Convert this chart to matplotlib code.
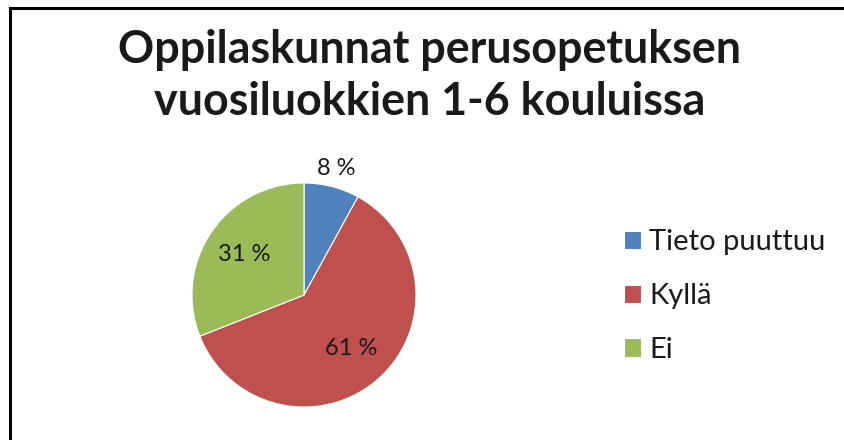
import matplotlib
matplotlib.use("Agg")
import matplotlib.pyplot as plt
from matplotlib.lines import Line2D
import numpy as np

title = "Oppilaskunnat perusopetuksen\nvuosiluokkien 1-6 kouluissa"
categories = ["Tieto puuttuu", "Kyllä", "Ei"]
values = [8, 61, 31]
colors = ["#4F81BD", "#C0504D", "#9BBB59"]

plt.rcParams['font.family'] = ['Lato', 'DejaVu Sans']

W, H = 844, 440
fig = plt.figure(figsize=(W / 100, H / 100), dpi=100)

# frame lines (top and left visible)
fig.add_artist(Line2D([9.5 / W, 9.5 / W], [0, 1 - 8 / H], color="black", lw=2.2,
                      transform=fig.transFigure))
fig.add_artist(Line2D([9.5 / W, 1], [1 - 8 / H, 1 - 8 / H], color="black", lw=2.2,
                      transform=fig.transFigure))

fig.text(430 / W, 1 - 76 / H, title, ha="center", va="center", fontsize=32.3,
         fontweight="bold", color="#1a1a1a", linespacing=1.3)

cx, cy, r = 304, 295, 112
ax = fig.add_axes([(cx - r) / W, 1 - (cy + r) / H, 2 * r / W, 2 * r / H])
wedges, texts, autotexts = ax.pie(values, colors=colors, startangle=90, counterclock=False,
                                  autopct=lambda p: f"{p:.0f} %", pctdistance=0.64,
                                  wedgeprops=dict(edgecolor="white", linewidth=0.8),
                                  textprops=dict(fontsize=17, color="#1a1a1a"))
# move first label outside
w0 = wedges[0]
ang = np.deg2rad((w0.theta1 + w0.theta2) / 2)
autotexts[0].set_position((1.17 * np.cos(ang), 1.17 * np.sin(ang)))
ax.set_xlim(-1, 1)
ax.set_ylim(-1, 1)
ax.set_aspect("equal")

fs = 21
fpx = fs * 100 / 72
fig.legend(wedges, categories, loc="center left",
           bbox_to_anchor=(624 / W, 1 - 296 / H), frameon=False,
           fontsize=fs, handlelength=17 / fpx, handleheight=17 / fpx,
           handletextpad=8 / fpx, labelspacing=0.95, borderpad=0, borderaxespad=0,
           labelcolor="#1a1a1a")

fig.savefig("out.png", dpi=100, facecolor="white")
